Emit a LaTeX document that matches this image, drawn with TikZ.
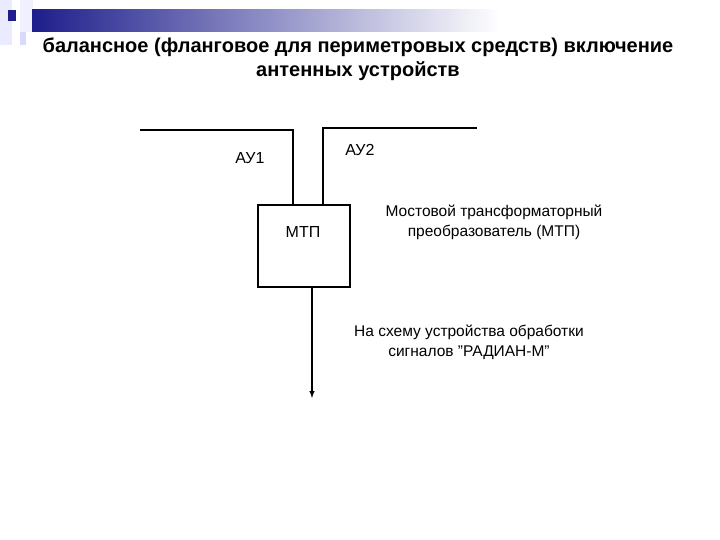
\documentclass[tikz,border=0pt]{standalone}
\usepackage{fontspec}
\setmainfont{Liberation Sans}
\definecolor{navy}{RGB}{30,30,140}
\begin{document}
\begin{tikzpicture}[x=1pt,y=-1pt,line width=1.4pt,
 lbl/.style={font=\fontsize{16}{19}\selectfont},
 note/.style={font=\fontsize{15.5}{20}\selectfont,align=center}]
\useasboundingbox (0,0) rectangle (720,540);
\fill[blue!8] (0,0) rectangle (12,45);
\fill[blue!6] (20,0) rectangle (33,32);
\shade[left color=navy, right color=white, draw=none] (32,10) rectangle (500,32);
\fill[navy] (8,10) rectangle (16,21);
\fill[blue!15] (20,32) rectangle (26,45);
\node[font=\bfseries\fontsize{20}{24}\selectfont,align=center] (title) at (358,59) {балансное (фланговое для периметровых средств) включение\\антенных устройств};
\coordinate (a1l) at (140,130); \coordinate (a1r) at (293,130);
\coordinate (a2l) at (323,128); \coordinate (a2r) at (477,128);
\node[draw,minimum width=92pt,minimum height=82pt,inner sep=0] (mtp) at (304,246) {};
\node[lbl] (mtpl) at (303,232) {МТП};
\draw (a1l) -- (a1r) -- (a1r |- mtp.north);
\draw (a2r) -- (a2l) -- (a2l |- mtp.north);
\coordinate (out) at (312,398);
\draw[->,>=latex] (312,287) -- (out);
\node[lbl] (au1) at (250,158) {АУ1};
\node[lbl] (au2) at (360,150) {АУ2};
\node[note] (n1) at (494,222) {Мостовой трансформаторный\\преобразователь (МТП)};
\node[note] (n2) at (469,342) {На схему устройства обработки\\сигналов "РАДИАН-М"};
\end{tikzpicture}
\end{document}
